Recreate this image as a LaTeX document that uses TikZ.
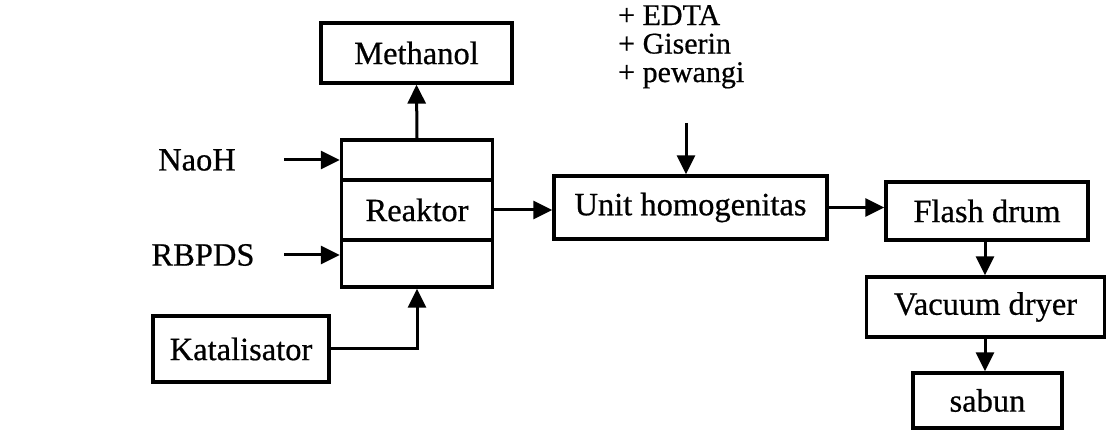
\documentclass[tikz,border=0pt]{standalone}
\usepackage{fontspec}
\setmainfont{Liberation Serif}[FakeBold=0.6]
\usetikzlibrary{arrows.meta}
\begin{document}
\begin{tikzpicture}[x=1pt,y=-1pt,
  box/.style={draw,line width=3.3pt,inner sep=0pt,font=\fontsize{32.5}{36}\selectfont},
  lbl/.style={inner sep=0pt,font=\fontsize{32.5}{36}\selectfont},
  flow/.style={line width=3pt,-{Triangle[length=19pt,width=18pt]}}]
\useasboundingbox (0,0) rectangle (1106,430);
% Methanol
\node[box,minimum width=191pt,minimum height=60pt] (meth) at (416.5,53) {Methanol};
% Reactor (three stacked cells)
\node[box,minimum width=151pt,minimum height=40pt] (r1) at (417,160) {};
\node[box,minimum width=151pt,minimum height=60pt] (r2) at (417,210) {Reaktor};
\node[box,minimum width=151pt,minimum height=47pt] (r3) at (417,263.5) {};
% Inputs
\node[lbl] (naoh) at (197,160) {NaoH};
\node[lbl] (rbpds) at (203,255) {RBPDS};
\coordinate (naohs) at (284,160);
\coordinate (rbpdss) at (284,255);
\node[box,minimum width=176pt,minimum height=66pt] (kat) at (241,349) {Katalisator};
% Additives
\node[lbl,align=left,anchor=north west,font=\fontsize{30}{28.5}\selectfont] (add) at (618,5) {+ EDTA\\+ Giserin\\+ pewangi};
\coordinate (adds) at (686,123);
% Downstream units
\node[box,minimum width=273pt,minimum height=63pt] (unit) at (690.5,207.5) {Unit homogenitas};
\node[box,minimum width=202pt,minimum height=58pt] (flash) at (987,211) {Flash drum};
\node[box,minimum width=238pt,minimum height=60pt] (vac) at (985.5,307) {Vacuum dryer};
\node[box,minimum width=149pt,minimum height=55pt] (sabun) at (987.5,400.5) {sabun};
% Connectors
\draw[flow] (r1.north) -- (meth.south);
\draw[flow] (naohs) -- (naohs -| r1.west);
\draw[flow] (rbpdss) -- (rbpdss -| r3.west);
\draw[flow] (kat.east) -| (r3.south);
\draw[flow] (r2.east) -- (r2.east -| unit.west);
\draw[flow] (adds) -- (adds |- unit.north);
\draw[flow] (unit.east) -- (unit.east -| flash.west);
\draw[flow] (flash.south -| 985,0) -- (vac.north -| 985,0);
\draw[flow] (vac.south -| 985,0) -- (sabun.north -| 985,0);
\end{tikzpicture}
\end{document}
